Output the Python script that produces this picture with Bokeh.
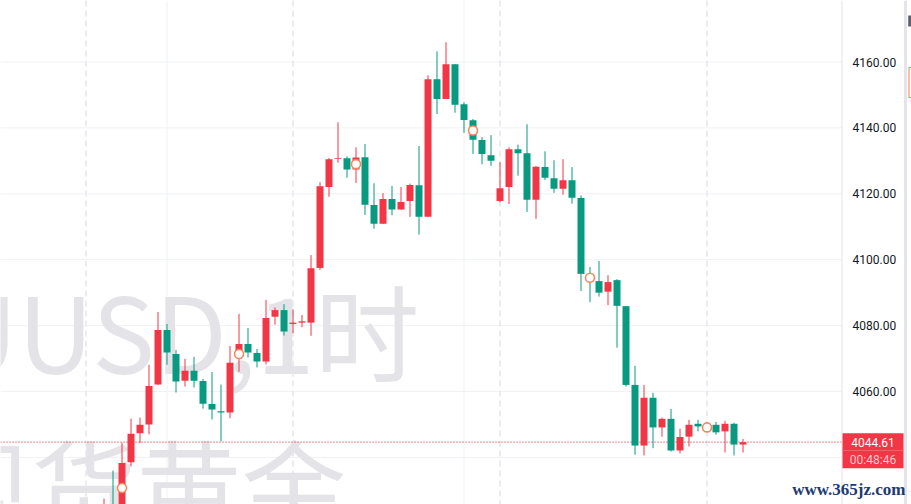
from bokeh.plotting import figure
from bokeh.models import Range1d, Span
from bokeh.core.properties import value
from bokeh.embed import file_html
from bokeh.resources import INLINE

# ---------------- data (hourly candles, XAUUSD) ----------------
opens = [4019.0, 4025.0, 4022.0, 4038.5, 4047.3, 4050.0, 4062.1, 4078.7, 4071.4, 4063.3,
         4066.3, 4063.2, 4056.2, 4054.0, 4053.6, 4071.6, 4074.4, 4071.7, 4069.1, 4082.7,
         4084.7, 4080.5, 4080.9, 4080.9, 4097.5, 4122.1, 4130.6, 4130.8, 4127.4, 4131.1,
         4116.6, 4110.9, 4118.4, 4115.2, 4117.8, 4122.6, 4113.0, 4154.8, 4148.8, 4159.3,
         4147.2, 4142.3, 4136.3, 4131.7, 4117.8, 4122.1, 4133.5, 4132.3, 4118.2, 4128.1,
         4124.7, 4121.5, 4124.1, 4118.7, 4095.2, 4093.5, 4090.3, 4093.8, 4085.9, 4062.0,
         4043.6, 4058.1, 4049.1, 4051.7, 4042.1, 4046.3, 4050.2, 4049.5, 4049.9, 4047.9,
         4050.2, 4043.9]
highs = [4027.5, 4036.0, 4044.4, 4051.8, 4052.1, 4068.1, 4084.1, 4080.5, 4072.6, 4069.9,
         4070.5, 4063.8, 4065.9, 4062.1, 4073.8, 4083.6, 4079.3, 4072.9, 4087.8, 4085.5,
         4086.5, 4084.9, 4083.2, 4101.4, 4123.5, 4130.9, 4141.7, 4131.4, 4134.1, 4135.1,
         4123.2, 4120.2, 4122.4, 4122.1, 4123.1, 4134.5, 4156.0, 4163.2, 4166.0, 4159.3,
         4147.8, 4142.7, 4137.2, 4137.8, 4129.6, 4134.1, 4134.9, 4141.1, 4128.4, 4132.9,
         4130.2, 4130.5, 4128.1, 4119.5, 4097.8, 4099.6, 4095.3, 4094.1, 4085.9, 4067.8,
         4062.0, 4059.6, 4052.1, 4054.7, 4048.7, 4051.4, 4051.4, 4050.3, 4050.8, 4051.1,
         4050.5, 4045.6]
lows = [4016.0, 4018.0, 4020.0, 4037.3, 4044.3, 4047.0, 4062.0, 4068.1, 4059.7, 4061.5,
        4061.2, 4054.8, 4051.5, 4044.9, 4051.9, 4066.0, 4070.3, 4067.3, 4068.2, 4080.3,
        4077.0, 4077.7, 4079.5, 4076.9, 4096.9, 4119.1, 4129.4, 4124.9, 4123.3, 4113.6,
        4109.4, 4110.9, 4113.5, 4115.2, 4113.0, 4107.6, 4113.0, 4144.2, 4148.8, 4144.6,
        4138.5, 4132.1, 4129.0, 4128.5, 4117.4, 4116.9, 4125.5, 4114.5, 4112.4, 4124.2,
        4120.3, 4119.7, 4117.0, 4090.5, 4087.1, 4088.8, 4086.2, 4073.3, 4061.5, 4040.8,
        4040.6, 4042.8, 4046.3, 4041.8, 4041.2, 4043.3, 4047.9, 4048.5, 4046.9, 4041.5,
        4040.6, 4041.5]
closes = [4024.0, 4020.0, 4038.3, 4047.2, 4049.9, 4061.7, 4078.7, 4071.8, 4063.0, 4066.3,
          4063.3, 4056.3, 4054.5, 4053.6, 4068.7, 4074.4, 4071.8, 4069.1, 4082.3, 4084.7,
          4078.2, 4080.9, 4081.3, 4097.4, 4122.3, 4130.5, 4130.9, 4127.4, 4131.0, 4116.7,
          4110.9, 4118.4, 4115.2, 4117.5, 4122.7, 4113.0, 4154.8, 4148.8, 4159.3, 4147.0,
          4142.4, 4136.4, 4132.1, 4130.0, 4121.7, 4133.5, 4132.3, 4118.2, 4128.2, 4124.9,
          4121.5, 4124.1, 4118.8, 4095.7, 4093.5, 4090.0, 4093.2, 4086.0, 4062.0, 4043.6,
          4058.1, 4049.1, 4051.7, 4042.1, 4046.2, 4049.9, 4049.4, 4049.3, 4047.6, 4050.2,
          4043.9, 4044.61]

marker_idx = [2, 15, 28, 41, 54, 67]
marker_price = [4030.7, 4071.4, 4129.0, 4139.2, 4094.5, 4049.1]

day_breaks = [-2, 21, 44, 67]       # dashed vertical separators (bar index)
grid_bars = [7, 40]                 # solid vertical grid lines (bar index)

price_ticks = [4060, 4080, 4100, 4120, 4140, 4160]
grid_prices = [4040, 4060, 4080, 4100, 4120, 4140, 4160]
tick_labels = ["4060.00", "4080.00", "4100.00", "4120.00", "4140.00", "4160.00"]

last_price = 4044.61
last_price_text = "4044.61"
countdown_text = "00:48:46"
watermark_line1 = "XAUUSD,1时"
watermark_line2 = "现货黄金"
site_text = "www.365jz.com"

UP = "#f23645"
DOWN = "#089981"

# ---------------- figure ----------------
W, H = 911, 504
BAR_PX = 9.0
X0 = -103.5 / BAR_PX
X1 = X0 + W / BAR_PX
PPU = 3.295
Y_TOP = 4160 + 61.5 / PPU
Y_BOT = Y_TOP - H / PPU
AXIS_LEFT = 841.5          # pixel position of price-scale border


def xdata(px):
    return X0 + px / BAR_PX


def ydata(py):
    return Y_TOP - py / PPU


p = figure(width=W, height=H, x_range=Range1d(X0, X1), y_range=Range1d(Y_BOT, Y_TOP),
           x_axis_location=None, y_axis_location=None,
           toolbar_location=None, output_backend="svg",
           min_border_left=0, min_border_right=0, min_border_top=0, min_border_bottom=0)
p.background_fill_color = "white"
p.border_fill_color = "white"
p.outline_line_color = None
p.xgrid.visible = False
p.ygrid.visible = False

GRID = "#eff1f4"
for g in grid_prices:
    p.add_layout(Span(location=g, dimension="width", line_color=GRID,
                      line_width=1, level="underlay"))
for b in grid_bars:
    p.add_layout(Span(location=b, dimension="height", line_color=GRID,
                      line_width=1, level="underlay"))
for b in day_breaks:
    p.add_layout(Span(location=b, dimension="height", line_color="#ebecf2",
                      line_width=2, line_dash="6 4", level="underlay"))

# watermark
WM = "#e4e4e8"
p.text(x=[xdata(419)], y=[ydata(327)], text=[watermark_line1],
       text_font=value("Noto Sans CJK SC"), text_font_size="105px",
       text_color=WM, text_align="right", text_baseline="middle")
p.text(x=[xdata(346)], y=[ydata(482)], text=[watermark_line2],
       text_font=value("Noto Sans CJK SC"), text_font_size="105px",
       text_color=WM, text_align="right", text_baseline="middle")

# last price line (under the candles)
p.segment(x0=[X0], y0=[last_price], x1=[xdata(AXIS_LEFT)], y1=[last_price],
          line_color=UP, line_width=1.2, line_dash="1 2")

# candles
idx = list(range(len(opens)))
colors = [UP if c >= o else DOWN for o, c in zip(opens, closes)]
tops = [max(o, c) for o, c in zip(opens, closes)]
bottoms = [min(o, c) for o, c in zip(opens, closes)]
tops = [t if t - b >= 0.3 else b + 0.3 for t, b in zip(tops, bottoms)]
p.segment(x0=idx, y0=lows, x1=idx, y1=highs, color=colors, line_width=1)
p.vbar(x=idx, width=7.0 / BAR_PX, top=tops, bottom=bottoms, fill_color=colors,
       line_color=None)

# markers
p.scatter(x=marker_idx, y=marker_price, marker="circle", size=9, fill_color="white",
          line_color="#f7875d", line_width=1.6)

# ---------------- price scale ----------------
p.quad(left=[xdata(AXIS_LEFT)], right=[X1], top=[Y_TOP], bottom=[Y_BOT],
       fill_color="white", line_color=None)
p.segment(x0=[xdata(AXIS_LEFT)], y0=[Y_BOT], x1=[xdata(AXIS_LEFT)], y1=[Y_TOP],
          line_color="#e0e3eb", line_width=1)
p.text(x=[xdata(852)] * len(price_ticks), y=price_ticks, text=tick_labels,
       text_font=value("Roboto"), text_font_size="12px", text_color="#131722",
       text_align="left", text_baseline="middle")

# current price label + countdown
p.quad(left=[xdata(842)], right=[xdata(903)], top=[ydata(432.7)], bottom=[ydata(450.0)],
       fill_color=UP, line_color=None)
p.quad(left=[xdata(842)], right=[xdata(903)], top=[ydata(450.0)], bottom=[ydata(467.7)],
       fill_color=UP, line_color=None)
p.segment(x0=[xdata(842)], y0=[ydata(450.0)], x1=[xdata(903)], y1=[ydata(450.0)],
          line_color="#f4606d", line_width=1)
p.text(x=[xdata(872.5)], y=[last_price], text=[last_price_text],
       text_font=value("Roboto"), text_font_size="12px", text_color="white",
       text_align="center", text_baseline="middle")
p.text(x=[xdata(872.5)], y=[ydata(459.0)], text=[countdown_text],
       text_font=value("Roboto"), text_font_size="12px", text_color="#fdc6cb",
       text_align="center", text_baseline="middle")

# right-hand edge strip of the chart widget
p.quad(left=[xdata(903.5)], right=[xdata(906.5)], top=[Y_TOP], bottom=[Y_BOT],
       fill_color="#e3e5eb", line_color=None)
p.quad(left=[xdata(907.7)], right=[X1], top=[ydata(15)], bottom=[ydata(26)],
       fill_color="#5d606b", line_color=None)
p.quad(left=[xdata(908.5)], right=[X1 + 1], top=[ydata(67)], bottom=[ydata(97)],
       fill_color="white", line_color="#ff7a45", line_width=1)

# site watermark
p.text(x=[xdata(905)], y=[ydata(489)], text=[site_text],
       text_font=value("Liberation Serif"), text_font_style="bold",
       text_font_size="17px", text_color="#1e3a72",
       text_align="right", text_baseline="middle")

open("out.html", "w").write(file_html(p, INLINE))
